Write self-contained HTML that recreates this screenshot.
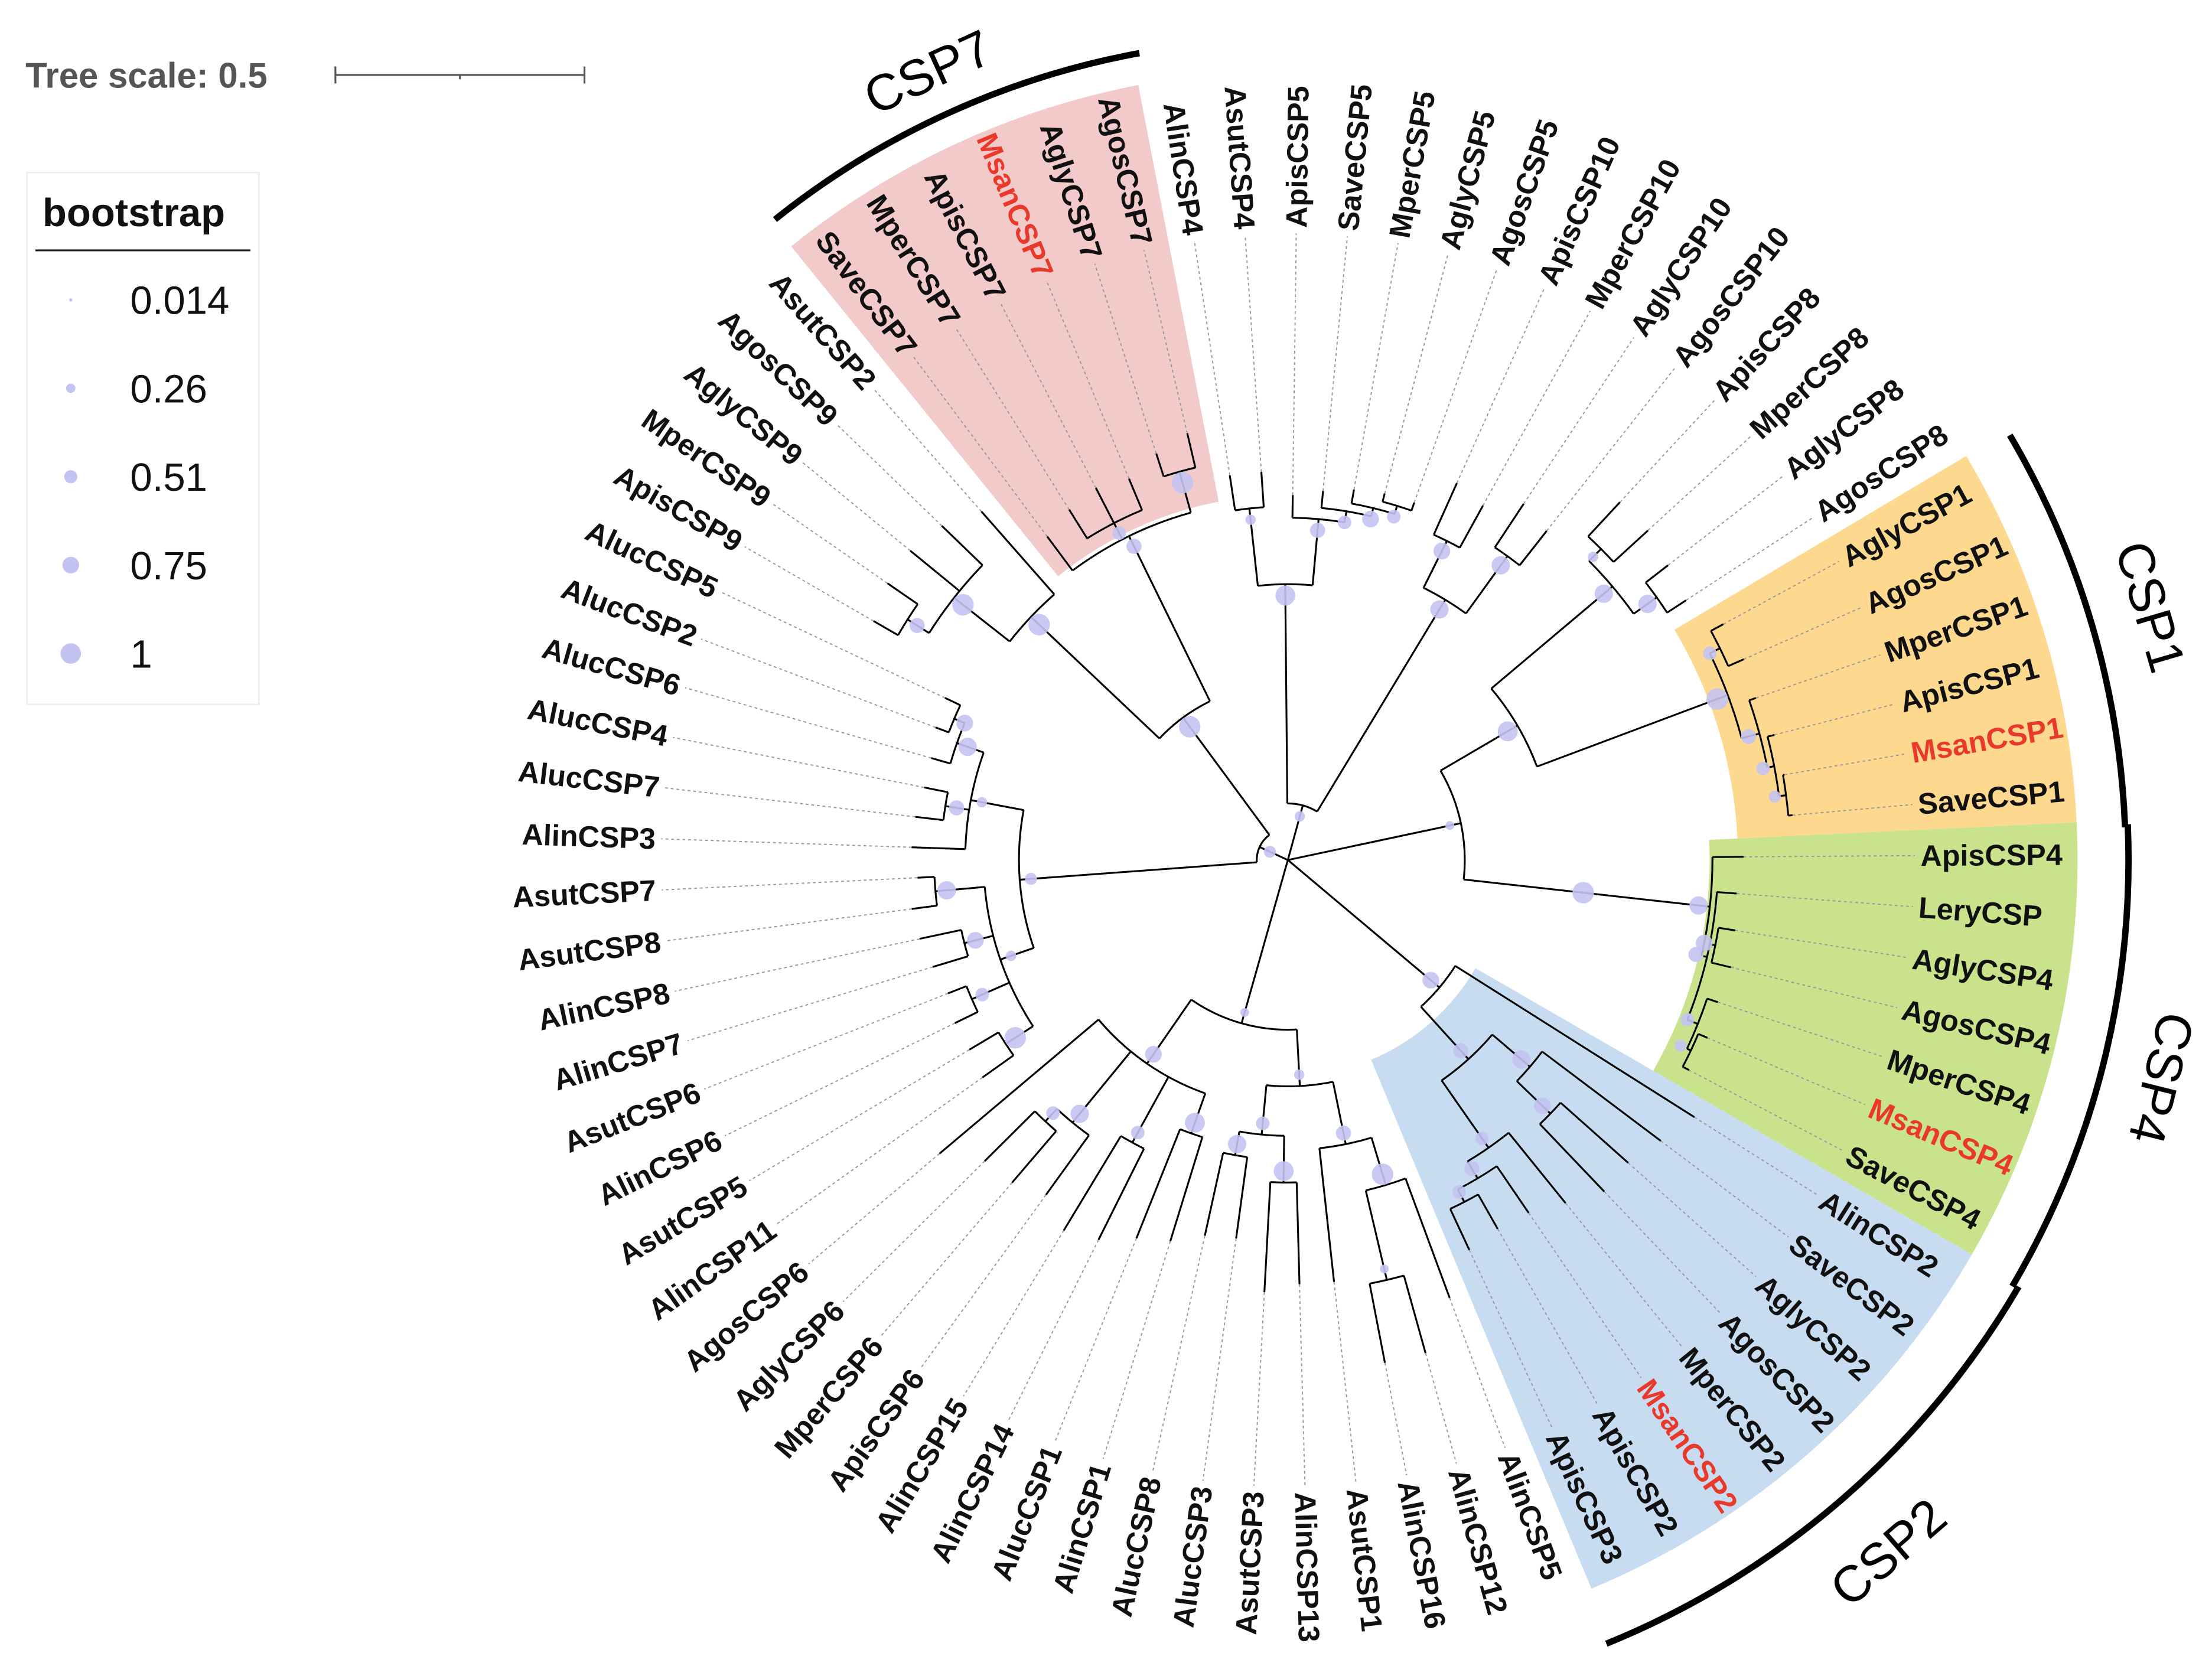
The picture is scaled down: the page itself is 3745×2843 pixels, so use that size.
<!DOCTYPE html>
<html><head><meta charset="utf-8"><style>
html,body{margin:0;padding:0;background:#fff;}
svg{display:block;font-family:"Liberation Sans",sans-serif;}
</style></head><body>
<svg id="chart" width="3745" height="2843" viewBox="0 0 1563 1187" preserveAspectRatio="none" xmlns="http://www.w3.org/2000/svg">
<g id="legend">
  <text x="18" y="62" font-size="25" font-weight="bold" fill="#555">Tree scale: 0.5</text>
  <g stroke="#555" stroke-width="1.3">
    <line x1="237" y1="53" x2="413" y2="53"/><line x1="237" y1="47" x2="237" y2="59"/><line x1="413" y1="47" x2="413" y2="59"/><line x1="325" y1="53" x2="325" y2="56"/>
  </g>
  <rect x="19" y="122" width="164" height="376" fill="#fff" stroke="#eee" stroke-width="1.2"/>
  <text x="30" y="160" font-size="28" font-weight="bold" fill="#111">bootstrap</text>
  <line x1="25" y1="177" x2="177" y2="177" stroke="#222" stroke-width="1.3"/>
  <g id="legendEntries"></g>
</g>
<g id="wedges"></g>
<g id="tree"></g>
<g id="labels"></g>
<g id="groups"></g>
</svg>
<script>
const leafNames=["AlinCSP4","AsutCSP4","ApisCSP5","SaveCSP5","MperCSP5","AglyCSP5","AgosCSP5","ApisCSP10","MperCSP10","AglyCSP10","AgosCSP10","ApisCSP8","MperCSP8","AglyCSP8","AgosCSP8","AglyCSP1","AgosCSP1","MperCSP1","ApisCSP1","MsanCSP1","SaveCSP1","ApisCSP4","LeryCSP","AglyCSP4","AgosCSP4","MperCSP4","MsanCSP4","SaveCSP4","AlinCSP2","SaveCSP2","AglyCSP2","AgosCSP2","MperCSP2","MsanCSP2","ApisCSP2","ApisCSP3","AlinCSP5","AlinCSP12","AlinCSP16","AsutCSP1","AlinCSP13","AsutCSP3","AlucCSP3","AlucCSP8","AlinCSP1","AlucCSP1","AlinCSP14","AlinCSP15","ApisCSP6","MperCSP6","AglyCSP6","AgosCSP6","AlinCSP11","AsutCSP5","AlinCSP6","AsutCSP6","AlinCSP7","AlinCSP8","AsutCSP8","AsutCSP7","AlinCSP3","AlucCSP7","AlucCSP4","AlucCSP6","AlucCSP2","AlucCSP5","ApisCSP9","MperCSP9","AglyCSP9","AgosCSP9","AsutCSP2","SaveCSP7","MperCSP7","ApisCSP7","MsanCSP7","AglyCSP7","AgosCSP7"];
const redLeaves=["MsanCSP1","MsanCSP4","MsanCSP2","MsanCSP7"];
const legendValues=[0.014,0.26,0.51,0.75,1];
const groupNames=["CSP7","CSP1","CSP4","CSP2"];
const groupFirst=[71,15,21,28];
const groupLast=[76,20,27,35];
const groupColors=["#f3caca","#fcd98e","#c9e38d","#c7dcf1"];

const NS="http://www.w3.org/2000/svg";
const cx=910, cy=608, step=360/leafNames.length, a0=-0.4, labelR=447;
function ang(i){return a0+(i-21)*step;}
function pol(r,a){const t=a*Math.PI/180;return [cx+r*Math.cos(t),cy+r*Math.sin(t)];}
function bsR(v){return 2+v*5.6;}
function mk(tag,attrs,parent){const e=document.createElementNS(NS,tag);for(const k in attrs)e.setAttribute(k,attrs[k]);parent.appendChild(e);return e;}
function N(r,bs,...c){return {r,bs,c};}
function L(i,r){return {leaf:i,r};}

const tree=N(0,0.3,
  N(22,0.4,
    N(125,1,
      N(255,0.6,L(71,285),N(268,0.5,L(72,292),L(73,296),L(74,292)),N(285,1,L(75,302),L(76,310))),
      N(250,1,N(300,1,N(318,0.6,L(66,338),L(67,344)),L(68,345),L(69,340)),L(70,328))),
    N(190,0.4,
      N(215,0.3,N(238,1,L(52,265),L(53,262)),N(244,0.5,L(54,262),L(55,258)),N(236,0.7,L(56,262),L(57,266)),N(250,0.8,L(58,268),L(59,262))),
      N(228,0.3,L(60,266),N(245,0.6,L(61,265),L(62,262)),N(248,0.8,L(63,262),N(256,0.7,L(64,266),L(65,268)))))),
  N(120,0.2,
    N(175,0.7,N(205,0.9,L(44,282),L(45,288)),N(228,0.5,L(46,300),L(47,306)),N(240,0.8,L(48,292),N(252,0.5,L(49,300),L(50,302))),L(51,322)),
    N(160,0.3,N(205,0.6,N(240,1,L(36,330),N(305,0.2,L(37,362),L(38,362))),L(39,300)),N(195,0.5,N(228,0.9,L(40,300),L(41,306)),N(212,0.8,L(42,270),L(43,272))))),
  N(140,0.7,L(28,340),N(190,0.6,N(225,0.8,L(29,330),N(258,0.7,L(30,322),L(31,324))),N(248,0.5,L(32,312),N(262,0.6,L(33,302),N(272,0.5,L(34,300),L(35,304)))))),
  N(125,0.2,
    N(188,0.9,N(300,0.8,N(312,0.3,L(11,345),L(12,345)),N(320,0.8,L(13,340),L(14,336))),
      N(332,1,N(340,0.5,L(15,350),L(16,352)),N(345,0.6,L(17,350),N(350,0.5,L(18,355),N(355,0.4,L(19,356),L(20,358)))))),
    N(218,1,N(300,0.8,L(21,322),N(304,0.6,L(22,318),N(308,0.7,L(23,320),L(24,322)),N(312,0.5,L(25,320),N(315,0.4,L(26,322),L(27,320))))))),
  N(40,0.3,
    N(195,0.9,N(250,0.3,L(0,275),L(1,275)),N(242,0.6,L(2,258),N(250,0.5,L(3,262),N(256,0.7,L(4,266),N(262,0.5,L(5,268),L(6,268)))))),
    N(215,0.8,N(252,0.7,L(7,292),L(8,286)),N(265,0.8,L(9,302),L(10,296))))
);

function layout(n){
  if(n.leaf!==undefined){n.a=ang(n.leaf);n.amin=n.a;n.amax=n.a;return;}
  n.c.forEach(layout);
  n.amin=Math.min(...n.c.map(c=>c.a));n.amax=Math.max(...n.c.map(c=>c.a));
  n.a=(n.amin+n.amax)/2;
}
layout(tree);

const wg=document.getElementById('wedges');
const wedgeInner=[258,318,298,153];
groupNames.forEach((g,k)=>{
  const a1=ang(groupFirst[k])-step/2,a2=ang(groupLast[k])+step/2,r1=wedgeInner[k],r2=558;
  const p1=pol(r1,a1),p2=pol(r2,a1),p3=pol(r2,a2),p4=pol(r1,a2);
  const w=mk('path',{d:`M${p1}L${p2}A${r2} ${r2} 0 0 1 ${p3}L${p4}A${r1} ${r1} 0 0 0 ${p1}Z`,fill:groupColors[k]},wg);
  
  
});

const tg=document.getElementById('tree');
const dots=[];
function draw(n,pr){
  const p=pol(pr,n.a),q=pol(n.r,n.a);
  if(n.r>pr){const br=mk('line',{x1:p[0],y1:p[1],x2:q[0],y2:q[1],stroke:'#000','stroke-width':1.3},tg);
    
    }
  if(n.leaf!==undefined){
    const s=pol(n.r,n.a),e=pol(labelR-4,n.a);
    const dl=mk('line',{x1:s[0],y1:s[1],x2:e[0],y2:e[1],stroke:'#999','stroke-width':0.8,'stroke-dasharray':'2 2'},tg);
    
    
    return;
  }
  const s=pol(n.r,n.amin),e=pol(n.r,n.amax),large=(n.amax-n.amin)>180?1:0;
  if(n.amax>n.amin){const arc=mk('path',{d:`M${s}A${n.r} ${n.r} 0 ${large} 1 ${e}`,fill:'none',stroke:'#000','stroke-width':1.3},tg);
    
    }
  n.c.forEach(c=>draw(c,n.r));
  if(n.r>0)dots.push(n);
}
draw(tree,0);
dots.forEach(n=>{
  const m=pol(n.r-8>0?n.r-8:n.r,n.a);
  const c=mk('circle',{cx:m[0],cy:m[1],r:bsR(n.bs),fill:'#c3c3f2','fill-opacity':0.9},tg);
  
  
});

const lg=document.getElementById('labels');
leafNames.forEach((nm,i)=>{
  const a=ang(i),right=Math.cos(a*Math.PI/180)>=0;
  const t=mk('text',{transform:`translate(${cx},${cy}) rotate(${right?a:a+180})`,x:right?labelR:-labelR,y:0,'text-anchor':right?'start':'end','dominant-baseline':'central','font-size':21,'font-weight':'bold',fill:redLeaves.includes(nm)?'#e8392b':'#111'},lg);
  t.textContent=nm;
  
  
});

const gg=document.getElementById('groups');
const arcR=[580,592,594,598];
const textR=[612,635,636,648];
const flip=[false,false,false,true];
groupNames.forEach((g,k)=>{
  const a1=ang(groupFirst[k])-step/2+0.3,a2=ang(groupLast[k])+step/2+0.5;
  const s=pol(arcR[k],a1),e=pol(arcR[k],a2);
  const p=mk('path',{d:`M${s}A${arcR[k]} ${arcR[k]} 0 0 1 ${e}`,fill:'none',stroke:'#000','stroke-width':4.5},gg);
  
  
  const am=(a1+a2)/2,c=pol(textR[k],am);
  const rot=flip[k]?am-90:am+90;
  const t=mk('text',{x:c[0],y:c[1],transform:`rotate(${rot} ${c[0]} ${c[1]})`,'text-anchor':'middle','dominant-baseline':'central','font-size':36,fill:'#000'},gg);
  t.textContent=g;
  
  
});

const le=document.getElementById('legendEntries');
legendValues.forEach((v,k)=>{
  const y=212+k*62.5;
  const c=mk('circle',{cx:50,cy:y,r:bsR(v)*(k===0?0.55:0.95),fill:'#c3c3f2'},le);
  
  
  const t=mk('text',{x:92,y:y+10,'font-size':28,fill:'#111'},le);
  t.textContent=String(v);
  
  
});
</script>
</body></html>
